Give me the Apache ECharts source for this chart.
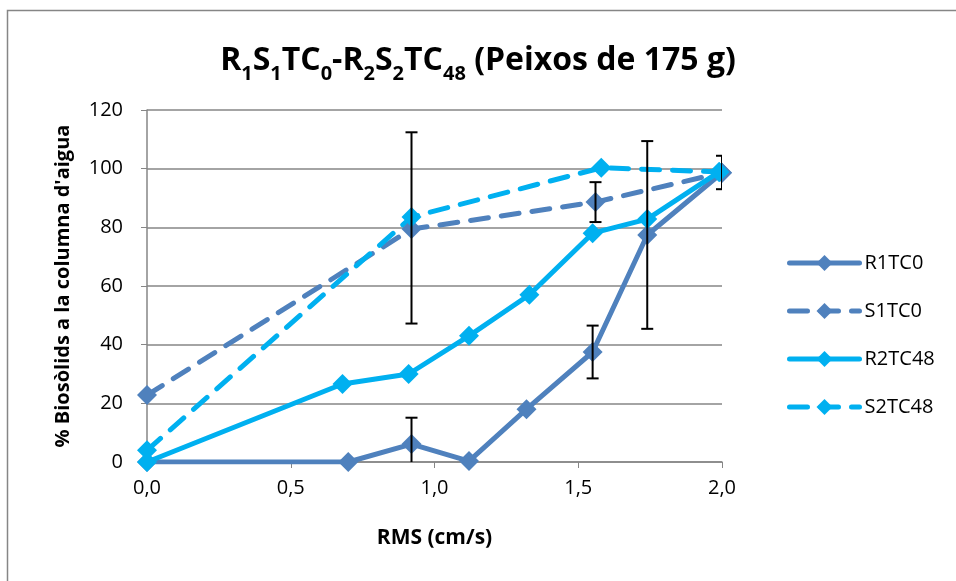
<!DOCTYPE html>
<html>
<head>
<meta charset="utf-8">
<script src="https://cdn.jsdelivr.net/npm/echarts@6/dist/echarts.min.js"></script>
<style>
  html, body { margin: 0; padding: 0; background: #fff; }
  #chart { width: 956px; height: 581px; }
</style>
</head>
<body>
<div id="chart"></div>
<script>
// dades llegides del gràfic
const xR1 = [0, 0.70, 0.92, 1.12, 1.32, 1.55, 1.74, 2.0]
const yR1 = [0, 0, 6.1, 0.3, 18, 37.5, 77.4, 98.6]
const xS1 = [0, 0.92, 1.56, 2.0]
const yS1 = [22.8, 79.4, 88.6, 98.6]
const xR2 = [0, 0.68, 0.91, 1.12, 1.33, 1.55, 1.74, 1.99]
const yR2 = [0, 26.6, 30, 43, 57, 78, 82.8, 98.9]
const xS2 = [0, 0.92, 1.58, 1.99]
const yS2 = [4, 83.5, 100.3, 98.9]

// barres d'error: x, valor, desviació
const errX = [0.92, 0.92, 1.55, 1.56, 1.74, 2.0]
const errY = [6.1, 79.8, 37.5, 88.6, 77.4, 98.7]
const errD = [9, 32.6, 9, 6.8, 32, 5.7]

const blue = '#4F81BD'
const cyan = '#00B0F0'
const font = 'Open Sans, Liberation Sans, sans-serif'

function pairs(xs, ys) {
  return xs.map((x, i) => [x, ys[i]])
}

function lineSeries(name, xs, ys, color, dashed) {
  return {
    name: name,
    type: 'line',
    data: pairs(xs, ys),
    symbol: 'diamond',
    symbolSize: 20,
    showSymbol: true,
    itemStyle: { color: color },
    lineStyle: { color: color, width: 5, type: dashed ? [18, 13] : 'solid', cap: 'round' },
    z: 3,
    animation: false
  }
}

let myChart = echarts.init(document.getElementById('chart'))
myChart.setOption({
  animation: false,
  title: {
    text: '{b|R}{s|1}{b|S}{s|1}{b|TC}{s|0}{b|-R}{s|2}{b|S}{s|2}{b|TC}{s|48}{b| (Peixos de 175 g)}',
    left: 'center',
    top: 32,
    textStyle: {
      rich: {
        b: { fontSize: 32, fontWeight: 'bold', fontFamily: font, color: '#000', verticalAlign: 'bottom', lineHeight: 40 },
        s: { fontSize: 20, fontWeight: 'bold', fontFamily: font, color: '#000', verticalAlign: 'bottom', lineHeight: 26, padding: [0, 0, -7, 0] }
      }
    }
  },
  graphic: [
    {
      type: 'rect',
      shape: { x: 7.5, y: 10.5, width: 960, height: 590 },
      style: { fill: 'none', stroke: '#868686', lineWidth: 1.5 },
      silent: true
    }
  ],
  legend: {
    orient: 'vertical',
    left: 782,
    top: 248,
    itemWidth: 70,
    itemHeight: 20,
    itemGap: 28,
    lineStyle: { width: 5 },
    textStyle: { fontSize: 20, fontFamily: font, color: '#000' },
    data: ['R1TC0', 'S1TC0', 'R2TC48', 'S2TC48']
  },
  grid: {
    left: 147,
    right: 234,
    top: 110,
    bottom: 119
  },
  xAxis: {
    type: 'value',
    min: 0,
    max: 2,
    interval: 0.5,
    name: 'RMS (cm/s)',
    nameLocation: 'middle',
    nameGap: 66,
    nameTextStyle: { fontSize: 21, fontWeight: 'bold', fontFamily: font, color: '#000' },
    axisLine: { lineStyle: { color: '#868686', width: 1.5 } },
    axisTick: { show: true, length: 6, lineStyle: { color: '#868686' } },
    axisLabel: {
      fontSize: 20, fontFamily: font, color: '#000', margin: 16,
      formatter: v => v.toFixed(1).replace('.', ',')
    },
    splitLine: { show: false }
  },
  yAxis: {
    type: 'value',
    min: 0,
    max: 120,
    interval: 20,
    name: "% Biosòlids a la columna d'aigua",
    nameLocation: 'middle',
    nameGap: 74,
    nameTextStyle: { fontSize: 20, fontWeight: 'bold', fontFamily: font, color: '#000' },
    axisLine: { show: true, lineStyle: { color: '#868686', width: 1.5 } },
    axisTick: { show: true, length: 6, lineStyle: { color: '#868686' } },
    axisLabel: { fontSize: 20, fontFamily: font, color: '#000', margin: 24 },
    splitLine: { lineStyle: { color: '#868686', width: 1.5 } }
  },
  series: [
    lineSeries('R1TC0', xR1, yR1, blue, false),
    lineSeries('S1TC0', xS1, yS1, blue, true),
    lineSeries('R2TC48', xR2, yR2, cyan, false),
    lineSeries('S2TC48', xS2, yS2, cyan, true),
    {
      type: 'custom',
      name: 'error',
      z: 4,
      clip: true,
      data: errX.map((x, i) => [x, errY[i] - errD[i], errY[i] + errD[i]]),
      renderItem: function (params, api) {
        const lo = api.coord([api.value(0), api.value(1)])
        const hi = api.coord([api.value(0), api.value(2)])
        const w = 6
        const st = { stroke: '#000', lineWidth: 2 }
        return {
          type: 'group',
          children: [
            { type: 'line', shape: { x1: hi[0], y1: hi[1], x2: lo[0], y2: lo[1] }, style: st },
            { type: 'line', shape: { x1: hi[0] - w, y1: hi[1], x2: hi[0] + w, y2: hi[1] }, style: st },
            { type: 'line', shape: { x1: lo[0] - w, y1: lo[1], x2: lo[0] + w, y2: lo[1] }, style: st }
          ]
        }
      }
    }
  ]
})
</script>
</body>
</html>
